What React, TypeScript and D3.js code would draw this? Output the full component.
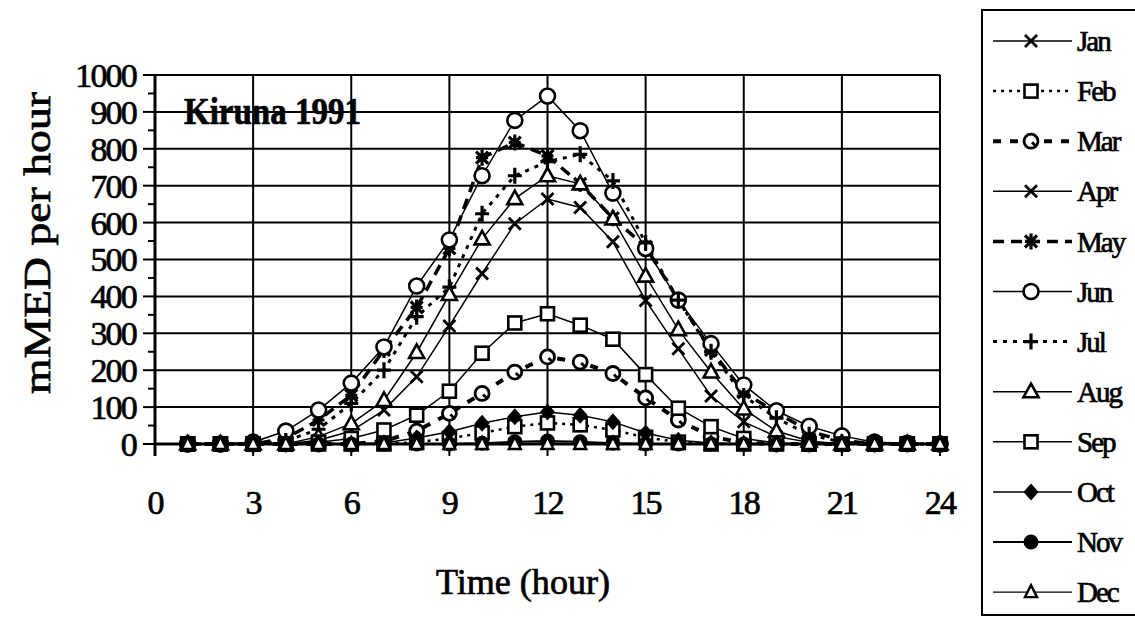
import React from "react";
import * as d3 from "d3";

const hours = d3.range(1, 25);
const monthNames = ["Jan", "Feb", "Mar", "Apr", "May", "Jun", "Jul", "Aug", "Sep", "Oct", "Nov", "Dec"];
const xTicks = [0, 3, 6, 9, 12, 15, 18, 21, 24];
const yTicks = [0, 100, 200, 300, 400, 500, 600, 700, 800, 900, 1000];

// values for hours 1..24
const jan = [0, 0, 0, 0, 0, 0, 0, 0, 0, 0, 1, 2, 1, 0, 0, 0, 0, 0, 0, 0, 0, 0, 0, 0];
const feb = [0, 0, 0, 0, 0, 0, 0, 5, 15, 30, 47, 57, 52, 38, 18, 5, 0, 0, 0, 0, 0, 0, 0, 0];
const mar = [0, 0, 0, 0, 0, 0, 8, 35, 83, 137, 195, 236, 222, 191, 125, 65, 20, 3, 0, 0, 0, 0, 0, 0];
const apr = [0, 0, 0, 0, 10, 35, 92, 182, 320, 462, 597, 664, 641, 548, 389, 258, 130, 60, 20, 5, 0, 0, 0, 0];
const may = [0, 0, 0, 15, 65, 132, 255, 370, 530, 776, 817, 781, 705, 612, 535, 390, 255, 140, 85, 35, 10, 0, 0, 0];
const jun = [0, 0, 5, 35, 92, 165, 263, 428, 553, 727, 877, 943, 849, 680, 530, 390, 272, 160, 90, 48, 22, 5, 2, 0];
const jul = [0, 0, 0, 8, 40, 110, 200, 345, 425, 624, 727, 765, 785, 713, 545, 390, 250, 130, 70, 25, 5, 0, 0, 0];
const aug = [0, 0, 0, 0, 20, 55, 118, 248, 405, 556, 665, 727, 705, 610, 455, 310, 195, 95, 35, 8, 0, 0, 0, 0];
const sep = [0, 0, 0, 0, 5, 15, 38, 78, 143, 246, 328, 353, 322, 284, 188, 97, 47, 15, 3, 0, 0, 0, 0, 0];
const oct = [0, 0, 0, 0, 0, 0, 3, 16, 33, 56, 74, 87, 78, 60, 30, 10, 3, 0, 0, 0, 0, 0, 0, 0];
const nov = [0, 0, 0, 0, 0, 0, 0, 0, 0, 2, 6, 8, 6, 2, 0, 0, 0, 0, 0, 0, 0, 0, 0, 0];
const dec = [0, 0, 0, 0, 0, 0, 0, 0, 0, 0, 0, 0, 0, 0, 0, 0, 0, 0, 0, 0, 0, 0, 0, 0];

const seriesValues = [jan, feb, mar, apr, may, jun, jul, aug, sep, oct, nov, dec];

type Style = { dash: string; width: number; marker: string };
const styles: Style[] = [
  { dash: "", width: 1.5, marker: "x" },
  { dash: "3,5", width: 2.5, marker: "square" },
  { dash: "8,9", width: 4, marker: "circleDot" },
  { dash: "", width: 1.5, marker: "x" },
  { dash: "11,7", width: 3.5, marker: "asterisk" },
  { dash: "", width: 1.5, marker: "circle" },
  { dash: "4,6", width: 3, marker: "plus" },
  { dash: "", width: 1.5, marker: "triangle" },
  { dash: "", width: 1.5, marker: "square" },
  { dash: "", width: 1.5, marker: "diamond" },
  { dash: "", width: 2, marker: "dot" },
  { dash: "", width: 1.2, marker: "triangleSmall" },
];

const FONT = "'Liberation Serif', 'Times New Roman', serif";

function Marker({ kind, x, y }: { kind: string; x: number; y: number }) {
  const t = `translate(${x},${y})`;
  switch (kind) {
    case "x":
      return <path transform={t} d="M-6,-6L6,6M-6,6L6,-6" stroke="#000" strokeWidth={2.8} fill="none" />;
    case "square":
      return <rect transform={t} x={-6.5} y={-6.5} width={13} height={13} fill="#fff" stroke="#000" strokeWidth={2.6} />;
    case "circleDot":
      return (
        <g transform={t}>
          <circle r={7} fill="#fff" stroke="#000" strokeWidth={2.8} />
          <path d="M1,1L5,5" stroke="#000" strokeWidth={2.8} />
        </g>
      );
    case "asterisk":
      return <path transform={t} d="M-6,-6L6,6M-6,6L6,-6M0,-8V8M-6,0H6" stroke="#000" strokeWidth={3.2} fill="none" />;
    case "circle":
      return <circle transform={t} r={7.5} fill="#fff" stroke="#000" strokeWidth={2.6} />;
    case "plus":
      return <path transform={t} d="M-7,0H7M0,-8V8" stroke="#000" strokeWidth={3.2} fill="none" />;
    case "triangle":
      return <path transform={t} d="M0,-8L7.5,5.5H-7.5Z" fill="#fff" stroke="#000" strokeWidth={2.6} />;
    case "triangleSmall":
      return <path transform={t} d="M0,-7L6,5H-6Z" fill="#fff" stroke="#000" strokeWidth={2.4} />;
    case "diamond":
      return <path transform={t} d="M0,-8.5L7.5,0L0,8.5L-7.5,0Z" fill="#000" />;
    case "dot":
      return <circle transform={t} r={7.5} fill="#000" />;
    default:
      return null;
  }
}

export default function App() {
  const x = d3.scaleLinear().domain([0, 24]).range([155, 940]);
  const y = d3.scaleLinear().domain([0, 1000]).range([444, 75]);
  const line = d3
    .line<number>()
    .x((_, i) => x(hours[i]))
    .y((v) => y(v));

  const minorY = d3.range(0, 1001, 50);
  const legendY = (i: number) => 41 + i * 50.1;
  const textStroke = { stroke: "#000", strokeWidth: 0.7 };

  return (
    <svg
      width={1135}
      height={619}
      style={{ position: "absolute", left: 0, top: 0, background: "#fff" }}
      fontFamily={FONT}
    >
      <rect width={1135} height={619} fill="#fff" />
      {/* grid */}
      {yTicks.slice(1).map((v) => (
        <line key={"gy" + v} x1={x(0)} x2={x(24)} y1={y(v)} y2={y(v)} stroke="#000" strokeWidth={2} />
      ))}
      {xTicks.slice(1).map((v) => (
        <line key={"gx" + v} x1={x(v)} x2={x(v)} y1={y(1000)} y2={y(0) + 12} stroke="#000" strokeWidth={2} />
      ))}
      {/* axes */}
      <line x1={x(0)} x2={x(0)} y1={y(1000)} y2={y(0) + 12} stroke="#000" strokeWidth={3} />
      <line x1={x(0)} x2={x(24)} y1={y(0)} y2={y(0)} stroke="#000" strokeWidth={3} />
      {minorY.map((v) => (
        <line
          key={"ty" + v}
          x1={x(0) - (v % 100 === 0 ? 12 : 7)}
          x2={x(0)}
          y1={y(v)}
          y2={y(v)}
          stroke="#000"
          strokeWidth={2}
        />
      ))}
      {yTicks.map((v) => (
        <text key={"ly" + v} x={136} y={y(v)} dy="0.35em" textAnchor="end" fontSize={34} letterSpacing={-1.8} {...textStroke}>
          {v}
        </text>
      ))}
      {xTicks.map((v) => (
        <text key={"lx" + v} x={x(v)} y={514} textAnchor="middle" fontSize={34} letterSpacing={-1.8} {...textStroke}>
          {v}
        </text>
      ))}
      <text
        transform={`translate(50,243) rotate(-90)`}
        textAnchor="middle"
        fontSize={37}
        textLength={302}
        lengthAdjust="spacingAndGlyphs"
        {...textStroke}
      >
        mMED per hour
      </text>
      <text x={523} y={594} textAnchor="middle" fontSize={35} textLength={174} lengthAdjust="spacingAndGlyphs" {...textStroke}>
        Time (hour)
      </text>
      <text x={184} y={124} fontSize={37} fontWeight="bold" textLength={177} lengthAdjust="spacingAndGlyphs" {...textStroke}>
        Kiruna 1991
      </text>

      {/* series */}
      {seriesValues.map((vals, si) => (
        <path
          key={"l" + si}
          d={line(vals) || ""}
          fill="none"
          stroke="#000"
          strokeWidth={styles[si].width}
          strokeDasharray={styles[si].dash}
        />
      ))}
      {seriesValues.map((vals, si) => (
        <g key={"m" + si}>
          {vals.map((v, i) => (
            <Marker key={i} kind={styles[si].marker} x={x(hours[i])} y={y(v)} />
          ))}
        </g>
      ))}

      {/* legend */}
      <rect x={982} y={10} width={200} height={605} fill="none" stroke="#000" strokeWidth={2} />
      {monthNames.map((m, i) => (
        <g key={"lg" + m}>
          <line
            x1={993}
            x2={1072}
            y1={legendY(i)}
            y2={legendY(i)}
            stroke="#000"
            strokeWidth={styles[i].width}
            strokeDasharray={styles[i].dash}
          />
          <Marker kind={styles[i].marker} x={1031} y={legendY(i)} />
          <text x={1077} y={legendY(i)} dy="0.35em" fontSize={29} letterSpacing={-2} {...textStroke}>
            {m}
          </text>
        </g>
      ))}
    </svg>
  );
}
